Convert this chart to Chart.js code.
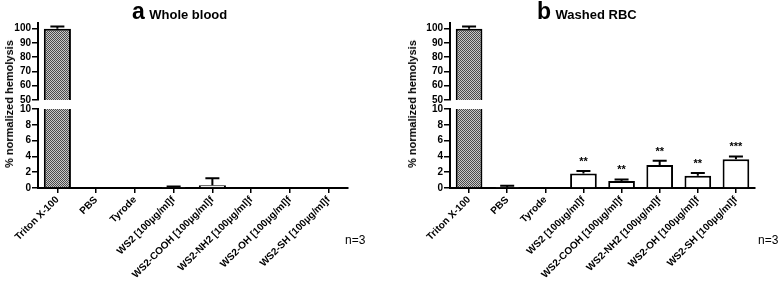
<!DOCTYPE html>
<html>
<head>
<meta charset="utf-8">
<script src="https://cdn.jsdelivr.net/npm/chart.js@4.4.0/dist/chart.umd.min.js"></script>
<style>
  body { margin: 0; background: #fff; }
  #wrap { position: relative; width: 780px; height: 281px; overflow: hidden;
          font-family: "Liberation Sans", Arial, sans-serif; color: #000; }
  canvas { position: absolute; }
  .ttl  { position: absolute; font-weight: bold; white-space: nowrap; line-height: 1; }
  .ttl .big { font-size: 23px; }
  .ttl .sm  { font-size: 13px; }
  .ylab { position: absolute; font-weight: bold; font-size: 11px; white-space: nowrap;
          transform: translate(-50%, -50%) rotate(-90deg); }
  .n    { position: absolute; font-size: 12px; }
</style>
</head>
<body>
<div id="wrap">
  <canvas id="aTop" width="390" height="106" style="left:0;top:0"></canvas>
  <canvas id="aBot" width="390" height="181" style="left:0;top:100px"></canvas>
  <canvas id="bTop" width="390" height="106" style="left:390px;top:0"></canvas>
  <canvas id="bBot" width="390" height="181" style="left:390px;top:100px"></canvas>

  <div class="ttl" style="left:132px;top:0px"><span class="big">a</span> <span class="sm">Whole blood</span></div>
  <div class="ttl" style="left:537px;top:0px"><span class="big">b</span> <span class="sm">Washed RBC</span></div>
  <div class="ylab" style="left:9px;top:104px">% normalized hemolysis</div>
  <div class="ylab" style="left:412px;top:104px">% normalized hemolysis</div>
  <div class="n" style="left:345px;top:233px">n=3</div>
  <div class="n" style="left:758px;top:233px">n=3</div>
</div>

<script>
// ── Data ─────────────────────────────────────────────────────────────────────
const CATEGORIES = [
  'Triton X-100', 'PBS', 'Tyrode', 'WS2 [100µg/ml]f', 'WS2-COOH [100µg/ml]f',
  'WS2-NH2 [100µg/ml]f', 'WS2-OH [100µg/ml]f', 'WS2-SH [100µg/ml]f',
];
const WHOLE_MEAN   = [100, 0, 0, 0.05, 0.35, 0, 0, 0];
const WHOLE_ERR    = [1.5, 0, 0, 0.15, 0.9, 0, 0, 0];
const WHOLE_STARS  = ['', '', '', '', '', '', '', ''];
const WASHED_MEAN  = [100, 0.05, 0, 1.85, 0.88, 2.9, 1.56, 3.63];
const WASHED_ERR   = [1.5, 0.25, 0, 0.3, 0.2, 0.55, 0.33, 0.37];
const WASHED_STARS = ['', '', '', '**', '**', '**', '**', '***'];

const TOP_TICKS = [50, 60, 70, 80, 90, 100];
const BOT_TICKS = [0, 2, 4, 6, 8, 10];

// ── Helpers ──────────────────────────────────────────────────────────────────
Chart.defaults.font.family = '"Liberation Sans", Arial, sans-serif';
Chart.defaults.color = '#000';

function checker() {
  const c = document.createElement('canvas');
  c.width = 2; c.height = 2;
  const g = c.getContext('2d');
  g.fillStyle = '#c8c8c8'; g.fillRect(0, 0, 2, 2);
  g.fillStyle = '#4a4a4a'; g.fillRect(0, 0, 1, 1); g.fillRect(1, 1, 1, 1);
  return g.createPattern(c, 'repeat');
}
const PATTERN = checker();

// error bars (upper only) and significance stars, from the chart's own scales
const errPlugin = {
  id: 'errBars',
  afterDatasetsDraw(chart, args, opts) {
    const { ctx, chartArea: a } = chart;
    const y = chart.scales.y;
    const bars = chart.getDatasetMeta(0).data;
    ctx.save();
    ctx.beginPath();
    ctx.rect(a.left, a.top - 1, a.right - a.left, a.bottom - a.top + 1);
    ctx.clip();
    ctx.strokeStyle = '#000';
    ctx.lineWidth = 2;
    bars.forEach((bar, i) => {
      const m = opts.mean[i], e = opts.err[i];
      if (!e || m + e > y.max || m + e < y.min) return;
      const y0 = y.getPixelForValue(Math.max(m, y.min));
      const y1 = y.getPixelForValue(m + e);
      ctx.beginPath();
      ctx.moveTo(bar.x, y0); ctx.lineTo(bar.x, y1);
      ctx.moveTo(bar.x - 7, y1); ctx.lineTo(bar.x + 7, y1);
      ctx.stroke();
    });
    ctx.restore();
    ctx.save();
    ctx.font = 'bold 11px "Liberation Sans", Arial, sans-serif';
    ctx.fillStyle = '#000';
    ctx.textAlign = 'center';
    ctx.textBaseline = 'middle';
    bars.forEach((bar, i) => {
      const s = opts.stars[i];
      const v = opts.mean[i] + opts.err[i];
      if (!s || v > y.max || v < y.min) return;
      ctx.fillText(s, bar.x, y.getPixelForValue(v) - 9);
    });
    ctx.restore();
  },
};

function makeChart(id, mean, err, stars, part, yWidth, padRight) {
  const isTop = part === 'top';
  const ticks = isTop ? TOP_TICKS : BOT_TICKS;
  return new Chart(document.getElementById(id).getContext('2d'), {
    type: 'bar',
    data: {
      labels: CATEGORIES,
      datasets: [{
        data: mean,
        backgroundColor: mean.map((v, i) => i === 0 ? PATTERN : '#fff'),
        borderColor: '#000',
        borderWidth: 2,
        barPercentage: 0.7,
        categoryPercentage: 1,
      }],
    },
    options: {
      responsive: false,
      animation: false,
      layout: { padding: isTop ? { top: 23, bottom: 6, left: 0, right: padRight }
                               : { top: 9, bottom: 0, left: 0, right: padRight } },
      plugins: {
        legend: { display: false },
        tooltip: { enabled: false },
        errBars: { mean, err, stars },
      },
      scales: {
        x: {
          display: !isTop,
          offset: true,
          grid: { drawOnChartArea: false, offset: false, tickLength: 5, color: '#000', lineWidth: 1.5 },
          border: { color: '#000', width: 2 },
          ticks: { autoSkip: false, minRotation: 45, maxRotation: 45, padding: 1,
                   font: { size: 10, weight: 'bold' } },
          afterFit: s => {
            s.height = isTop ? 0 : 93;
            s.paddingLeft = 0; s.paddingRight = 0;
          },
        },
        y: {
          min: isTop ? 50 : 0,
          max: isTop ? 104 : 10,
          afterBuildTicks: s => { s.ticks = ticks.map(v => ({ value: v })); },
          grid: { drawOnChartArea: false, tickLength: 6, color: '#000', lineWidth: 1.5 },
          border: { color: '#000', width: 2 },
          ticks: { padding: 1, font: { size: 10, weight: 'bold' } },
          afterFit: s => { s.width = yWidth; s.paddingTop = 0; s.paddingBottom = 0; },
        },
      },
    },
    plugins: [errPlugin],
  });
}

makeChart('aTop', WHOLE_MEAN, WHOLE_ERR, WHOLE_STARS, 'top', 38, 42);
makeChart('aBot', WHOLE_MEAN, WHOLE_ERR, WHOLE_STARS, 'bot', 38, 42);
makeChart('bTop', WASHED_MEAN, WASHED_ERR, WASHED_STARS, 'top', 60, 25);
makeChart('bBot', WASHED_MEAN, WASHED_ERR, WASHED_STARS, 'bot', 60, 25);
</script>
</body>
</html>
